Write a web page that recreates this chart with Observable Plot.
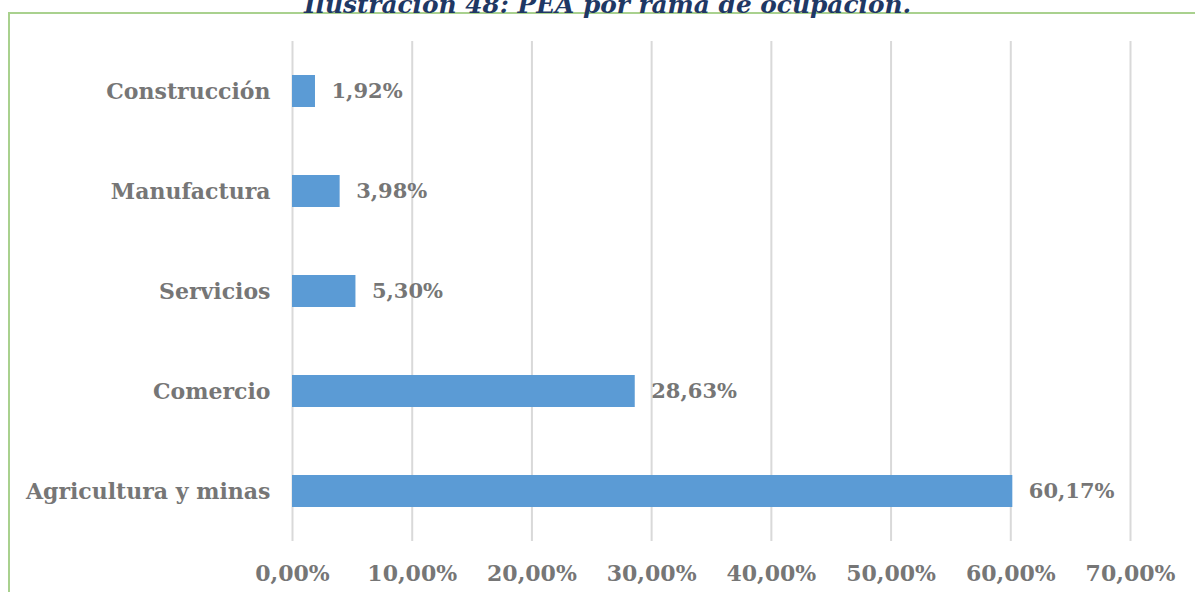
<!DOCTYPE html>
<html>
<head>
<meta charset="utf-8">
<script src="https://cdn.jsdelivr.net/npm/d3@7"></script>
<script src="https://cdn.jsdelivr.net/npm/@observablehq/plot@0.6"></script>
<style>
  html, body { margin: 0; padding: 0; background: #fff; overflow: hidden; }
  #wrap { position: relative; width: 1195px; height: 592px; overflow: hidden; }
  #border { position: absolute; left: 8px; top: 12px; width: 1195px; height: 600px; border: 2px solid #A9D18E; box-sizing: border-box; }
  #title { position: absolute; left: 10px; width: 1195px; top: -10px; text-align: center; font-family: "DejaVu Serif", Georgia, serif; font-weight: bold; font-style: italic; font-size: 24.8px; color: #1F3864; white-space: nowrap; }
  #chart { position: absolute; left: 0; top: 0; }
</style>
</head>
<body>
<div id="wrap">
  <div id="border"></div>
  <div id="title">Ilustración 48: PEA por rama de ocupación.</div>
  <div id="chart"></div>
</div>
<script>
const categories = ["Construcción", "Manufactura", "Servicios", "Comercio", "Agricultura y minas"];
const values = [1.92, 3.98, 5.30, 28.63, 60.17];
const xTicks = [0, 10, 20, 30, 40, 50, 60, 70];

const data = categories.map((c, i) => ({ cat: c, v: values[i] }));
const fmt = v => v.toFixed(2).replace(".", ",") + "%";

const chart = Plot.plot({
  width: 1195,
  height: 592,
  marginLeft: 292,
  marginRight: 65,
  marginTop: 41,
  marginBottom: 51,
  style: { fontFamily: "'DejaVu Serif', Georgia, serif", fontWeight: "bold", color: "#767676", background: "transparent", overflow: "visible" },
  x: { domain: [0, 70], ticks: xTicks, tickFormat: fmt },
  y: { domain: categories, paddingInner: 0.68, paddingOuter: 0.34 },
  marks: [
    Plot.ruleX(xTicks, { stroke: "#d9d9d9", strokeWidth: 2 }),
    Plot.barX(data, { x: "v", y: "cat", fill: "#5B9BD5" }),
    Plot.text(data, { x: "v", y: "cat", text: d => fmt(d.v), dx: 16, textAnchor: "start", fontSize: 21, fill: "#767676" }),
    Plot.axisX({ ticks: xTicks, tickFormat: fmt, tickSize: 0, tickPadding: 24, fontSize: 22, label: null }),
    Plot.axisY({ tickSize: 0, tickPadding: 22, fontSize: 22, label: null })
  ]
});
document.getElementById("chart").appendChild(chart);
</script>
</body>
</html>
